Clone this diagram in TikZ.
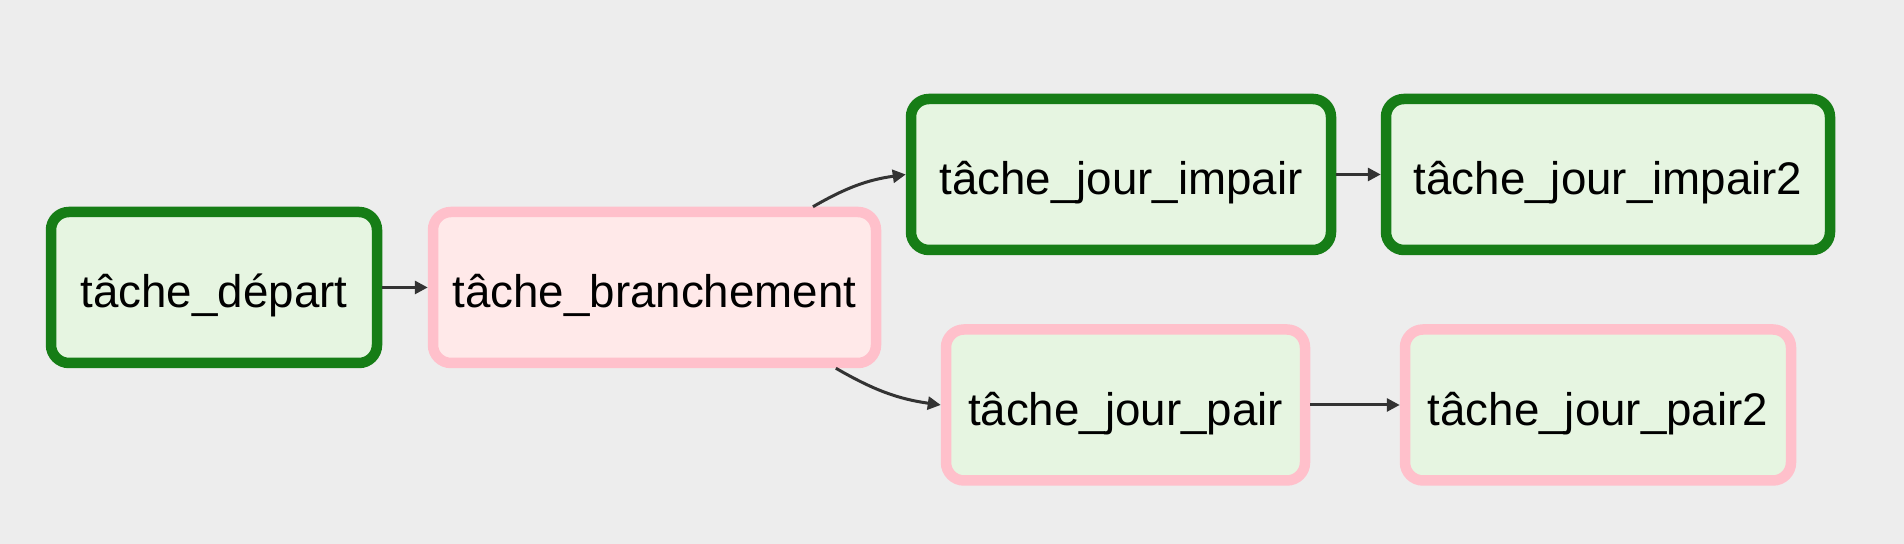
\documentclass[tikz,border=0pt]{standalone}
\usepackage{fontspec}
\setmainfont{Liberation Sans}
\usetikzlibrary{arrows.meta}
\definecolor{fond}{HTML}{EDEDED}
\definecolor{vertbord}{RGB}{22,125,22}
\definecolor{vertfond}{HTML}{E6F5E1}
\definecolor{rosebord}{HTML}{FFC0CB}
\definecolor{rosefond}{HTML}{FFE9E9}
\definecolor{fleche}{HTML}{333333}
\begin{document}
\begin{tikzpicture}[
    tache/.style={rectangle, rounded corners=0.18cm, line width=0.105cm,
      minimum height=1.51cm, inner sep=0pt,
      text height=0.44cm, text depth=0.03cm,
      font=\fontsize{13}{15}\selectfont},
    reussi/.style={tache, draw=vertbord, fill=vertfond},
    saute/.style={tache, draw=rosebord, fill=vertfond},
    branche/.style={tache, draw=rosebord, fill=rosefond},
    lien/.style={draw=fleche, line width=0.03cm,
      -{Triangle[length=0.13cm,width=0.13cm]}}
  ]
      \fill[fond] (0,0) rectangle (19.04,5.44);
      \useasboundingbox (0,0) rectangle (19.04,5.44);
      \path
        (2.14,2.565) node[reussi, minimum width=3.26cm] (0){tâche\_départ}
        (6.545,2.565) node[branche, minimum width=4.43cm] (1){tâche\_branchement}
        (11.21,3.695) node[reussi, minimum width=4.20cm] (2){tâche\_jour\_impair}
        (16.08,3.695) node[reussi, minimum width=4.44cm] (3){tâche\_jour\_impair2}
        (11.255,1.39) node[saute, minimum width=3.59cm] (4){tâche\_jour\_pair}
        (15.98,1.39) node[saute, minimum width=3.86cm] (5){tâche\_jour\_pair2};
      \begin{scope}[lien]
        \draw (0) to (1);
        \draw (1.27) to[out=30, in=188] (2.west);
        \draw (1.-24) to[out=-30, in=172] (4.west);
        \draw (2) to (3);
        \draw (4) to (5);
      \end{scope}
    \end{tikzpicture}
\end{document}
